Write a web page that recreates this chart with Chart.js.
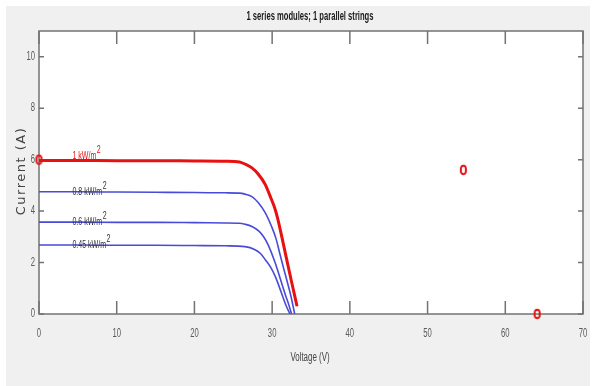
<!DOCTYPE html>
<html>
<head>
<meta charset="utf-8">
<script src="https://cdn.jsdelivr.net/npm/chart.js@4.4.0/dist/chart.umd.min.js"></script>
<style>
  html, body { margin: 0; padding: 0; background: #fff; overflow: hidden; }
  #wrap { width: 597px; height: 386px; }
</style>
</head>
<body>
<div id="wrap"><canvas id="grafico" width="597" height="386"></canvas></div>
<script>
// Textos
const titulo = '1 series modules; 1 parallel strings';
const eixoX = 'Voltage (V)';
const eixoY = 'Current (A)';

// Ticks
const xTicks = [0, 10, 20, 30, 40, 50, 60, 70];
const yTicks = [0, 2, 4, 6, 8, 10];

// Curvas I-V
const v100 = [0, 5, 10, 15, 20, 24, 25.8, 26.5, 27.4, 28.2, 29.1, 29.9, 30.3, 30.7, 31.1, 31.6, 32.2, 32.7, 33.2];
const i100 = [5.97, 5.97, 5.96, 5.96, 5.95, 5.94, 5.91, 5.83, 5.68, 5.44, 5.04, 4.46, 4.15, 3.73, 3.2, 2.5, 1.66, 0.98, 0.3];

const v080 = [0, 5, 10, 15, 20, 24, 25.8, 26.5, 27.4, 28.2, 29.1, 29.9, 30.5, 31.0, 31.5, 31.9, 32.4, 32.9];
const i080 = [4.75, 4.75, 4.74, 4.73, 4.72, 4.71, 4.7, 4.66, 4.56, 4.33, 3.94, 3.42, 2.93, 2.33, 1.75, 1.3, 0.72, 0];

const v060 = [0, 5, 10, 15, 20, 24, 25.8, 26.5, 27.4, 28.3, 28.9, 29.5, 30.4, 31.2, 31.7, 32.1, 32.5];
const i060 = [3.57, 3.57, 3.56, 3.56, 3.55, 3.54, 3.53, 3.49, 3.4, 3.22, 3.0, 2.68, 1.98, 1.22, 0.75, 0.4, 0];

const v045 = [0, 5, 10, 15, 20, 24, 26.5, 27.8, 28.5, 29.1, 29.8, 30.4, 31.2, 31.8, 32.3];
const i045 = [2.68, 2.68, 2.67, 2.67, 2.66, 2.65, 2.62, 2.5, 2.35, 2.12, 1.82, 1.46, 0.82, 0.32, 0];

// Marcadores (círculos vermelhos)
const marcasV = [0, 54.6, 64.1];
const marcasI = [6.0, 5.6, 0];

// Rótulos das curvas
const rotulos = ['1 kW/m', '0.8 kW/m', '0.6 kW/m', '0.45 kW/m'];
const rotuloV = [4.3, 4.3, 4.3, 4.3];
const rotuloI = [5.97, 4.75, 3.57, 2.68];

const pares = (xs, ys) => xs.map((x, k) => ({ x: x, y: ys[k] }));

const fonte = "'Liberation Sans', Arial, sans-serif";
const vermelho = '#e81010';
const azul = '#4a4ad8';
const cinzaEixo = '#737373';

// marcador elíptico (como no MATLAB esticado)
const marcador = document.createElement('canvas');
marcador.width = 9; marcador.height = 12;
(function () {
  const m = marcador.getContext('2d');
  m.strokeStyle = vermelho;
  m.lineWidth = 2;
  m.beginPath();
  m.ellipse(4.5, 6, 2.6, 4.2, 0, 0, Math.PI * 2);
  m.stroke();
})();

// texto comprimido horizontalmente (fonte estreita)
function textoEstreito(ctx, t, x, y, fator, alinhar) {
  const w = ctx.measureText(t).width * fator;
  let x0 = x;
  if (alinhar === 'center') x0 = x - w / 2;
  if (alinhar === 'right') x0 = x - w;
  ctx.save();
  ctx.translate(x0, y);
  ctx.scale(fator, 1);
  ctx.textAlign = 'left';
  ctx.fillText(t, 0, 0);
  ctx.restore();
  return w;
}

const molduraPlugin = {
  id: 'moldura',
  beforeDraw(chart) {
    const ctx = chart.ctx;
    const a = chart.chartArea;
    ctx.save();
    ctx.fillStyle = '#ffffff';
    ctx.fillRect(0, 0, chart.width, chart.height);
    ctx.fillStyle = '#f0f0f0';
    ctx.fillRect(6, 6, 584, 380);
    ctx.fillStyle = '#ffffff';
    ctx.fillRect(a.left, a.top, a.right - a.left, a.bottom - a.top);
    ctx.restore();
  },
  beforeDatasetsDraw(chart) {
    const ctx = chart.ctx;
    const a = chart.chartArea;
    const sx = chart.scales.x, sy = chart.scales.y;
    ctx.save();
    ctx.strokeStyle = cinzaEixo;
    ctx.lineWidth = 1.5;
    ctx.strokeRect(a.left, a.top, a.right - a.left, a.bottom - a.top);
    ctx.beginPath();
    xTicks.forEach(v => {
      const px = sx.getPixelForValue(v);
      ctx.moveTo(px, a.bottom); ctx.lineTo(px, a.bottom - 13);
      ctx.moveTo(px, a.top); ctx.lineTo(px, a.top + 13);
    });
    yTicks.forEach(v => {
      const py = sy.getPixelForValue(v);
      ctx.moveTo(a.left, py); ctx.lineTo(a.left + 5, py);
      ctx.moveTo(a.right, py); ctx.lineTo(a.right - 5, py);
    });
    ctx.stroke();
    // rótulos dos ticks
    ctx.fillStyle = '#5a5a5a';
    ctx.font = '12px ' + fonte;
    ctx.textBaseline = 'middle';
    xTicks.forEach(v => textoEstreito(ctx, String(v), sx.getPixelForValue(v), a.bottom + 20, 0.64, 'center'));
    yTicks.forEach(v => textoEstreito(ctx, String(v), a.left - 4, sy.getPixelForValue(v), 0.64, 'right'));
    ctx.restore();
  },
  afterDraw(chart) {
    const ctx = chart.ctx;
    const a = chart.chartArea;
    const sx = chart.scales.x, sy = chart.scales.y;
    ctx.save();
    ctx.textBaseline = 'middle';
    // título
    ctx.fillStyle = '#1a1a1a';
    ctx.font = 'bold 12px ' + fonte;
    const wt = ctx.measureText(titulo).width;
    textoEstreito(ctx, titulo, 310, 17, 127 / wt, 'center');
    // eixo x
    ctx.fillStyle = '#444';
    ctx.font = '12px ' + fonte;
    textoEstreito(ctx, eixoX, 310, 358, 0.66, 'center');
    // eixo y
    ctx.save();
    ctx.translate(22, 171);
    ctx.rotate(-Math.PI / 2);
    ctx.font = '13px "DejaVu Sans", sans-serif';
    ctx.letterSpacing = '1.5px';
    ctx.textAlign = 'center';
    ctx.fillText(eixoY, 0, 0);
    ctx.restore();
    // rótulos das curvas
    ctx.textBaseline = 'alphabetic';
    rotulos.forEach((t, k) => {
      const px = sx.getPixelForValue(rotuloV[k]);
      const py = sy.getPixelForValue(rotuloI[k]) + (k === 0 ? -1 : 3);
      ctx.fillStyle = k === 0 ? vermelho : '#333';
      ctx.font = '11px ' + fonte;
      const w = textoEstreito(ctx, t, px, py, 0.64, 'left');
      ctx.font = '10px ' + fonte;
      textoEstreito(ctx, '2', px + w + 0.5, py - 6, 0.7, 'left');
    });
    ctx.restore();
  }
};

const ctx = document.getElementById('grafico').getContext('2d');
new Chart(ctx, {
  type: 'scatter',
  data: {
    datasets: [
      { label: '0.45', data: pares(v045, i045), showLine: true, borderColor: azul, borderWidth: 1.6, pointRadius: 0, cubicInterpolationMode: 'monotone' },
      { label: '0.6', data: pares(v060, i060), showLine: true, borderColor: azul, borderWidth: 1.6, pointRadius: 0, cubicInterpolationMode: 'monotone' },
      { label: '0.8', data: pares(v080, i080), showLine: true, borderColor: azul, borderWidth: 1.6, pointRadius: 0, cubicInterpolationMode: 'monotone' },
      { label: '1', data: pares(v100, i100), showLine: true, borderColor: vermelho, borderWidth: 3, pointRadius: 0, cubicInterpolationMode: 'monotone' },
      { label: 'marcas', data: pares(marcasV, marcasI), showLine: false, pointStyle: marcador, pointRadius: 5,
        borderColor: vermelho, backgroundColor: 'rgba(0,0,0,0)', clip: false }
    ]
  },
  options: {
    responsive: false,
    animation: false,
    layout: { padding: { left: 0, top: 31, right: 14, bottom: 0 } },
    plugins: {
      legend: { display: false },
      tooltip: { enabled: false },
      title: { display: false }
    },
    scales: {
      x: {
        type: 'linear', min: 0, max: 70,
        grid: { display: false },
        border: { display: false },
        afterBuildTicks: s => { s.ticks = xTicks.map(v => ({ value: v })); },
        afterFit: s => { s.height = 72; },
        ticks: { display: false }
      },
      y: {
        type: 'linear', min: 0, max: 11,
        grid: { display: false },
        border: { display: false },
        afterBuildTicks: s => { s.ticks = yTicks.map(v => ({ value: v })); },
        afterFit: s => { s.width = 39; },
        ticks: { display: false }
      }
    }
  },
  plugins: [molduraPlugin]
});
</script>
</body>
</html>
